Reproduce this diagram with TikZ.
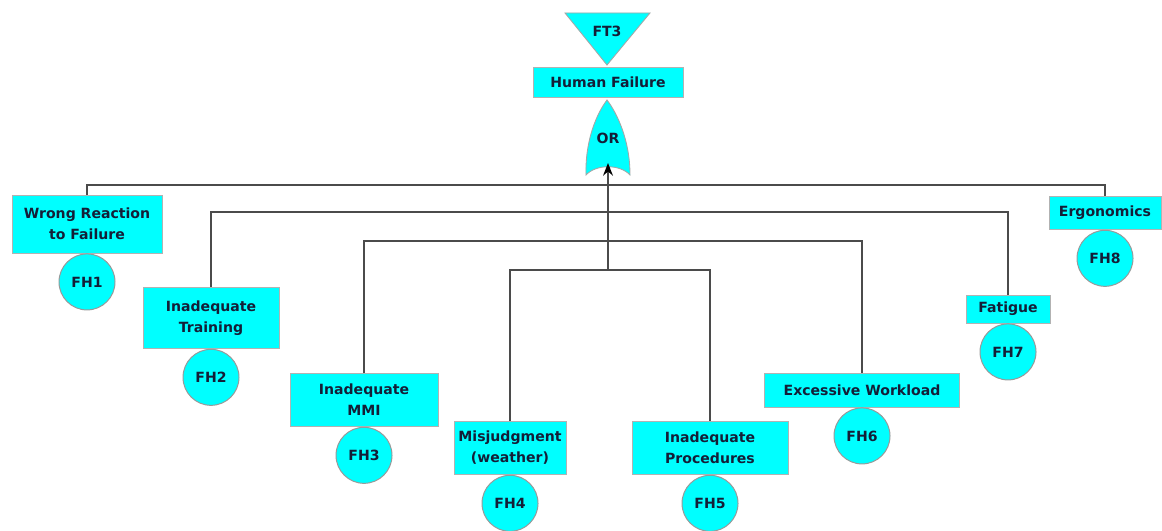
\documentclass[tikz,border=0pt]{standalone}
\usepackage{fontspec}
\setmainfont{DejaVu Sans}
\usetikzlibrary{arrows.meta,positioning}

\definecolor{gatecyan}{RGB}{0,255,255}
\definecolor{inktext}{RGB}{20,30,55}
\definecolor{wirecol}{RGB}{75,75,75}

\begin{document}
\begin{tikzpicture}[x=0.025cm,y=-0.025cm,
                    font=\fontsize{10}{15}\selectfont\bfseries,text=inktext]
  \tikzstyle{event}=[rectangle,fill=gatecyan,draw=gray!60,line width=0.6pt,
                     align=center,inner sep=1pt]
  \tikzstyle{basic}=[circle,fill=gatecyan,draw=gray!80,line width=0.7pt,
                     minimum size=1.4cm,inner sep=0pt]
  \tikzstyle{gate}=[fill=gatecyan,draw=gray!70,line width=0.6pt]
  \tikzstyle{wire}=[draw=wirecol,line width=1pt]

  \useasboundingbox (0,0) rectangle (1162,531);

  % top event and OR gate
  \draw[gate] (565,13) -- (650,13) -- (607,65) -- cycle;
  \node (ft3) at (607,31) {FT3};
  \node[event,minimum width=3.75cm,minimum height=0.75cm] (human) at (608,82) {Human Failure};
  \draw[gate] (586,175) .. controls (585,140) and (597,113) .. (607,100)
              .. controls (617,113) and (630,140) .. (630,175)
              .. controls (620,164) and (596,164) .. (586,175) -- cycle;
  \node (or) at (608,138) {OR};
  \coordinate (orin) at (608,163);

  % basic events
  \node[event,minimum width=3.75cm,minimum height=1.45cm] (wrong)    at (87,224)   {Wrong Reaction\\to Failure};
  \node[event,minimum width=3.4cm,minimum height=1.52cm]  (training) at (211,318)  {Inadequate\\Training};
  \node[event,minimum width=3.7cm,minimum height=1.32cm]  (mmi)      at (364,400)  {Inadequate\\MMI};
  \node[event,minimum width=2.8cm,minimum height=1.32cm]  (misj)     at (510,448)  {Misjudgment\\(weather)};
  \node[event,minimum width=3.9cm,minimum height=1.32cm]  (proc)     at (710,448)  {Inadequate\\Procedures};
  \node[event,minimum width=4.88cm,minimum height=0.85cm] (work)     at (862,390)  {Excessive Workload};
  \node[event,minimum width=2.1cm,minimum height=0.7cm]   (fatigue)  at (1008,309) {Fatigue};
  \node[event,minimum width=2.8cm,minimum height=0.82cm]  (ergo)     at (1105,213) {Ergonomics};

  \node[basic,below=0pt of wrong]    (fh1) {FH1};
  \node[basic,below=0pt of training] (fh2) {FH2};
  \node[basic,below=0pt of mmi]      (fh3) {FH3};
  \node[basic,below=0pt of misj]     (fh4) {FH4};
  \node[basic,below=0pt of proc]     (fh5) {FH5};
  \node[basic,below=0pt of work]     (fh6) {FH6};
  \node[basic,below=0pt of fatigue]  (fh7) {FH7};
  \node[basic,below=0pt of ergo]     (fh8) {FH8};

  % wiring
  \coordinate (j1) at (608,185);
  \coordinate (j2) at (608,212);
  \coordinate (j3) at (608,241);
  \coordinate (j4) at (608,270);

  \path[wire] (wrong.north)    |- (j1) -| (ergo.north)
              (training.north) |- (j2) -| (fatigue.north)
              (mmi.north)      |- (j3) -| (work.north)
              (misj.north)     |- (j4) -| (proc.north);
  \draw[wire,-{Stealth[length=9pt,width=7pt,black]}] (j4) -- (orin);
\end{tikzpicture}
\end{document}
